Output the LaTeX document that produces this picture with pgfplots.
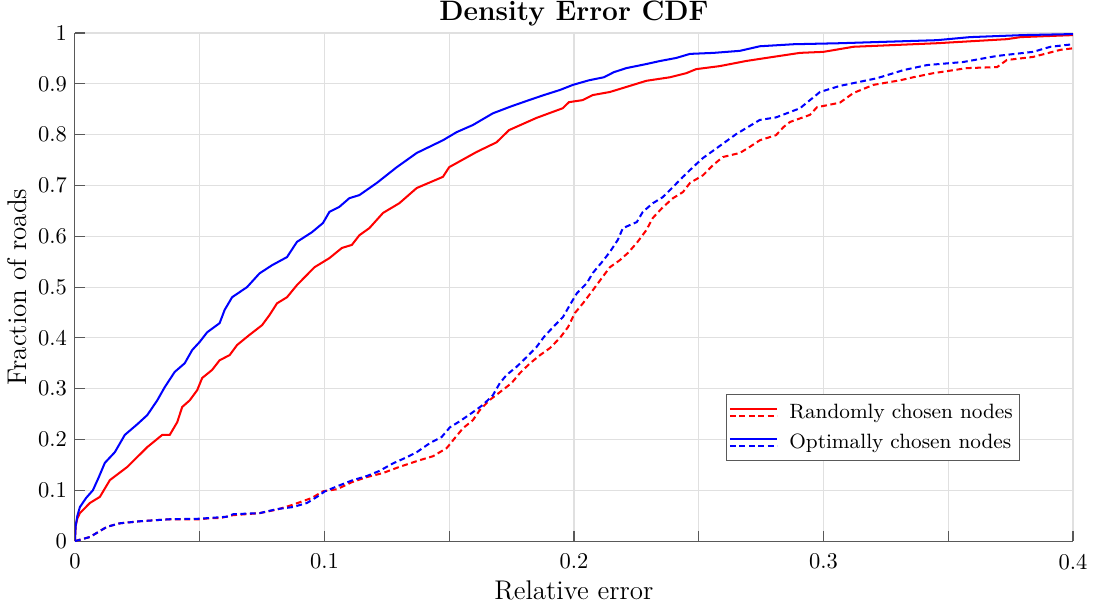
\documentclass[border=0pt]{standalone}
\usepackage{pgfplots}
\pgfplotsset{compat=1.18}

\definecolor{axgray}{gray}{0.35}
\definecolor{gridgray}{gray}{0.88}

\begin{document}
\begin{tikzpicture}
\begin{axis}[
  scale only axis,
  width=443.6pt, height=225.8pt,
  xmin=0, xmax=0.4, ymin=0, ymax=1,
  axis x line=bottom, axis y line=left,
  axis line style={-, axgray, line width=0.5pt},
  tick align=inside,
  major tick length=4.4pt,
  tick style={axgray, line width=0.5pt},
  xtick={0,0.05,0.1,0.15,0.2,0.25,0.3,0.35,0.4},
  xticklabels={0,,0.1,,0.2,,0.3,,0.4},
  xticklabel style={yshift=-2.2pt},
  ytick={0,0.1,0.2,0.3,0.4,0.5,0.6,0.7,0.8,0.9,1},
  yticklabels={0,0.1,0.2,0.3,0.4,0.5,0.6,0.7,0.8,0.9,1},
  grid=major,
  major grid style={gridgray, line width=0.5pt},
  title={Density Error CDF},
  title style={anchor=base, yshift=-0.6pt, font=\fontsize{12.5pt}{15pt}\selectfont\bfseries},
  xlabel={\large Relative error},
  ylabel={\large Fraction of roads},
  xlabel style={yshift=2pt},
  ylabel style={yshift=-2pt},
  legend style={at={(0.947,0.157)}, anchor=south east, draw=axgray,
    line width=0.5pt, font=\fontsize{9.2pt}{11pt}\selectfont, row sep=1.5pt,
    column sep=3pt, inner xsep=1pt, inner ysep=2pt},
  legend cell align=left,
  legend image code/.code={
    \draw[solid,line width=0.9pt] (0pt,1.6pt) -- (21pt,1.6pt);
    \draw[line width=0.9pt,dash pattern=on 2.6pt off 1.6pt] (0pt,-1.6pt) -- (21pt,-1.6pt);
  },
]

% randomly chosen nodes, solid
\addplot[red, line width=0.9pt] coordinates {
(0,0) (0.0003,0.03) (0.001,0.045) (0.002,0.055) (0.006,0.075) (0.01,0.087)
(0.014,0.12) (0.021,0.146) (0.029,0.185) (0.035,0.209) (0.038,0.209)
(0.041,0.234) (0.043,0.264) (0.046,0.277) (0.049,0.297) (0.051,0.321)
(0.055,0.337) (0.058,0.356) (0.062,0.366) (0.065,0.386) (0.070,0.406)
(0.075,0.425) (0.078,0.445) (0.081,0.468) (0.085,0.48) (0.089,0.504)
(0.093,0.524) (0.096,0.539) (0.102,0.557) (0.107,0.577) (0.111,0.583)
(0.114,0.602) (0.118,0.616) (0.1235,0.646) (0.130,0.665) (0.137,0.695)
(0.1475,0.717) (0.150,0.736) (0.161,0.766) (0.169,0.785) (0.174,0.809)
(0.185,0.833) (0.1955,0.852) (0.198,0.864) (0.2035,0.868) (0.2076,0.878)
(0.2144,0.884) (0.2224,0.896) (0.229,0.906) (0.2385,0.913) (0.245,0.921)
(0.249,0.929) (0.2585,0.935) (0.269,0.945) (0.277,0.951) (0.2906,0.961)
(0.30,0.963) (0.312,0.973) (0.3455,0.980) (0.3735,0.988) (0.379,0.992)
(0.4,0.996)
};
\addlegendentry{Randomly chosen nodes}

% randomly chosen nodes, dashed
\addplot[red, line width=0.9pt, dash pattern=on 2.6pt off 1.6pt, forget plot] coordinates {
(0,0) (0.006,0.008) (0.0128,0.028) (0.018,0.035) (0.026,0.039) (0.038,0.043)
(0.05,0.043) (0.054,0.045) (0.058,0.045) (0.0634,0.051) (0.074,0.055)
(0.081,0.062) (0.087,0.071) (0.095,0.085) (0.0994,0.098) (0.105,0.102)
(0.111,0.116) (0.117,0.126) (0.1235,0.134) (0.130,0.146) (0.138,0.159)
(0.1435,0.167) (0.149,0.183) (0.1523,0.203) (0.1555,0.222) (0.1595,0.238)
(0.1623,0.258) (0.1663,0.278) (0.1703,0.293) (0.175,0.311) (0.1784,0.331)
(0.1824,0.350) (0.1864,0.366) (0.1904,0.380) (0.1944,0.400) (0.1976,0.421)
(0.2004,0.449) (0.2036,0.468) (0.2076,0.494) (0.2112,0.518) (0.2144,0.539)
(0.2184,0.553) (0.2216,0.567) (0.2252,0.587) (0.229,0.612) (0.2316,0.636)
(0.2356,0.657) (0.2397,0.675) (0.2437,0.687) (0.2465,0.705) (0.2517,0.720)
(0.2557,0.740) (0.2597,0.756) (0.2665,0.764) (0.2705,0.776) (0.2745,0.789)
(0.281,0.799) (0.284,0.815) (0.2866,0.825) (0.2946,0.839) (0.2974,0.854)
(0.3066,0.863) (0.312,0.882) (0.32,0.898) (0.3307,0.907) (0.336,0.913)
(0.344,0.921) (0.3575,0.931) (0.3696,0.933) (0.3735,0.947) (0.384,0.953)
(0.395,0.967) (0.4,0.970)
};

% optimally chosen nodes, solid
\addplot[blue, line width=0.9pt] coordinates {
(0,0) (0.0003,0.03) (0.001,0.05) (0.002,0.067) (0.0045,0.085) (0.0072,0.10)
(0.0095,0.125) (0.012,0.154) (0.016,0.175) (0.02,0.209) (0.025,0.23)
(0.029,0.248) (0.033,0.277) (0.036,0.303) (0.040,0.333) (0.044,0.35)
(0.047,0.376) (0.050,0.392) (0.053,0.411) (0.058,0.429) (0.060,0.455)
(0.063,0.48) (0.069,0.50) (0.074,0.527) (0.079,0.543) (0.085,0.559)
(0.089,0.589) (0.095,0.608) (0.0994,0.626) (0.102,0.648) (0.106,0.658)
(0.110,0.675) (0.114,0.681) (0.121,0.705) (0.129,0.736) (0.137,0.764)
(0.1475,0.789) (0.153,0.805) (0.1595,0.819) (0.1675,0.842) (0.175,0.856)
(0.182,0.868) (0.188,0.878) (0.1944,0.888) (0.1996,0.898) (0.206,0.907)
(0.212,0.913) (0.216,0.923) (0.221,0.931) (0.229,0.939) (0.2345,0.945)
(0.241,0.951) (0.2465,0.959) (0.256,0.961) (0.2665,0.965) (0.2745,0.974)
(0.288,0.978) (0.3066,0.980) (0.3455,0.986) (0.3587,0.992) (0.38,0.996)
(0.4,0.998)
};
\addlegendentry{Optimally chosen nodes}

% optimally chosen nodes, dashed
\addplot[blue, line width=0.9pt, dash pattern=on 2.6pt off 1.6pt, forget plot] coordinates {
(0,0) (0.006,0.008) (0.0128,0.028) (0.018,0.035) (0.026,0.039) (0.038,0.043)
(0.05,0.044) (0.061,0.048) (0.0635,0.053) (0.074,0.055) (0.081,0.063)
(0.0874,0.067) (0.093,0.075) (0.097,0.087) (0.1002,0.098) (0.1062,0.110)
(0.1114,0.120) (0.117,0.128) (0.122,0.138) (0.1275,0.153) (0.133,0.165)
(0.137,0.175) (0.1423,0.193) (0.147,0.205) (0.1503,0.224) (0.1543,0.236)
(0.159,0.252) (0.1635,0.268) (0.1675,0.287) (0.1703,0.311) (0.173,0.327)
(0.177,0.343) (0.181,0.362) (0.185,0.382) (0.188,0.402) (0.1916,0.421)
(0.1956,0.441) (0.1984,0.465) (0.2012,0.488) (0.2052,0.508) (0.2076,0.528)
(0.2112,0.549) (0.2144,0.569) (0.2176,0.593) (0.2196,0.616) (0.2252,0.628)
(0.2276,0.648) (0.2316,0.665) (0.2356,0.677) (0.2397,0.697) (0.2437,0.717)
(0.2477,0.736) (0.2517,0.754) (0.2585,0.778) (0.265,0.801) (0.2745,0.829)
(0.281,0.834) (0.2906,0.852) (0.2946,0.868) (0.2986,0.884) (0.3066,0.896)
(0.3214,0.911) (0.332,0.927) (0.3415,0.937) (0.356,0.943) (0.3696,0.955)
(0.384,0.963) (0.391,0.973) (0.4,0.978)
};

\end{axis}
\pgfresetboundingbox
\path[use as bounding box] ([xshift=-33.3pt,yshift=-29.3pt]current axis.south west)
  rectangle ([xshift=9.8pt,yshift=14.7pt]current axis.north east);
\end{tikzpicture}
\end{document}
